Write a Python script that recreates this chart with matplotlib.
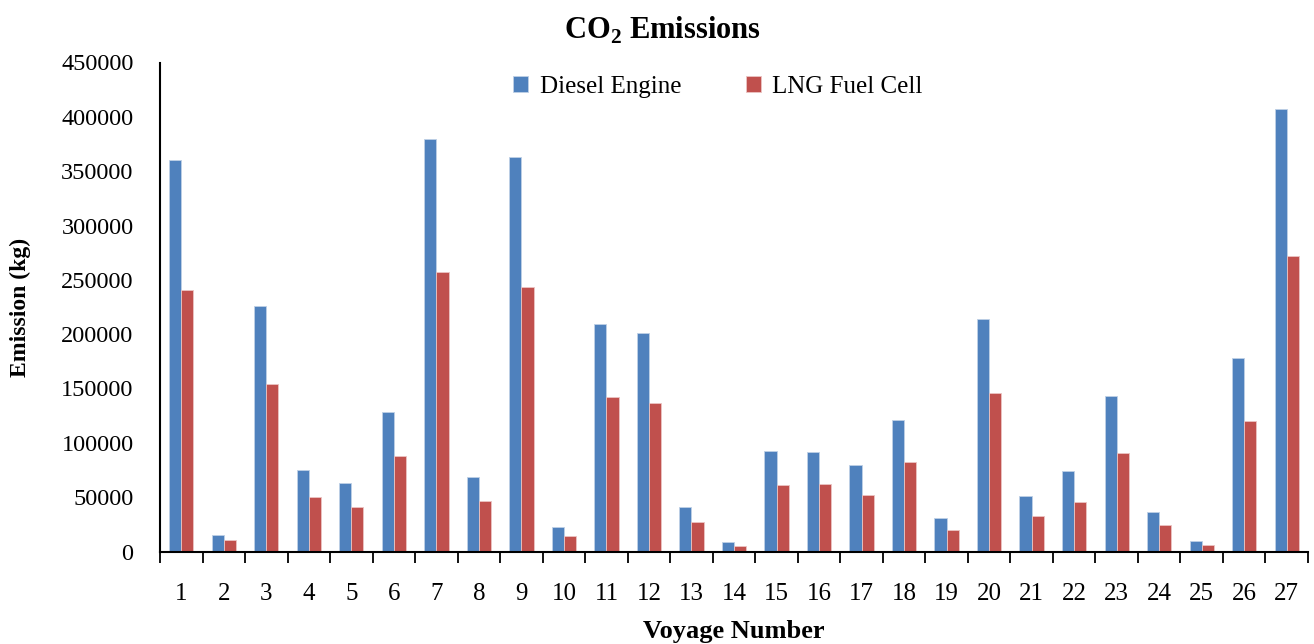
import matplotlib
matplotlib.use("Agg")
import matplotlib.pyplot as plt
import numpy as np

# voyage data (kg CO2)
voyages = [str(i) for i in range(1, 28)]
diesel = [360000, 15400, 226000, 74900, 63200, 128500, 380000, 68700, 363000,
          22400, 209000, 201000, 40800, 8600, 92400, 91400, 79500, 121000,
          30700, 213500, 51000, 74000, 143000, 36800, 9800, 178000, 407000]
lng = [240500, 10500, 154000, 50600, 41100, 87700, 257000, 46600, 243000,
       14400, 142000, 136800, 27300, 5500, 61100, 62300, 52400, 82200,
       19700, 145700, 32600, 45700, 90500, 24600, 6400, 120000, 272000]

blue = '#4F81BD'
red = '#C0504D'

plt.rcParams['font.family'] = ['Liberation Serif', 'DejaVu Serif']
plt.rcParams['mathtext.fontset'] = 'custom'
plt.rcParams['mathtext.rm'] = 'Liberation Serif'
plt.rcParams['mathtext.bf'] = 'Liberation Serif:bold'

fig = plt.figure(figsize=(13.14, 6.44), dpi=100)
ax = fig.add_axes([160/1314, 1 - 551.5/644, 1148/1314, 489/644])

x = np.arange(len(voyages))
w = 1/3.5
ax.bar(x - w/2, diesel, w, color=blue, edgecolor='#BFD0E6', linewidth=0.6, label='Diesel Engine')
ax.bar(x + w/2, lng, w, color=red, edgecolor='#EBC4C3', linewidth=0.6, label='LNG Fuel Cell')

ax.set_xlim(-0.5, len(voyages) - 0.5)
ax.set_ylim(0, 450000)
ax.set_yticks(np.arange(0, 450001, 50000))
ax.tick_params(axis='y', length=0, pad=19, labelsize=17.5)

ax.set_xticks(x)
ax.set_xticklabels(voyages)
ax.set_xticks(np.arange(-0.5, len(voyages)), minor=True)
ax.tick_params(axis='x', which='major', length=0, pad=23, labelsize=18)
ax.tick_params(axis='x', which='minor', length=8, width=1.3, direction='out')

for s in ['top', 'right']:
    ax.spines[s].set_visible(False)
for s in ['left', 'bottom']:
    ax.spines[s].set_linewidth(1.5)

ax.set_xlabel('Voyage Number', fontsize=19, fontweight='bold')
ax.xaxis.set_label_coords(0.5, -0.14)
ax.set_ylabel('Emission (kg)', fontsize=17, fontweight='bold')
ax.yaxis.set_label_coords(-0.112, 0.5)

fig.text(662/1314, 1 - 30/644, r'CO$_{\mathbf{2}}$ Emissions', ha='center', va='center',
         fontsize=22, fontweight='bold')

ax.legend(loc='center', bbox_to_anchor=(718/1314, 1 - 87/644), bbox_transform=fig.transFigure,
          ncol=2, frameon=False, fontsize=18, handlelength=0.6, handleheight=0.6,
          handletextpad=0.45, columnspacing=2.6)

fig.savefig('out.png', dpi=100)
